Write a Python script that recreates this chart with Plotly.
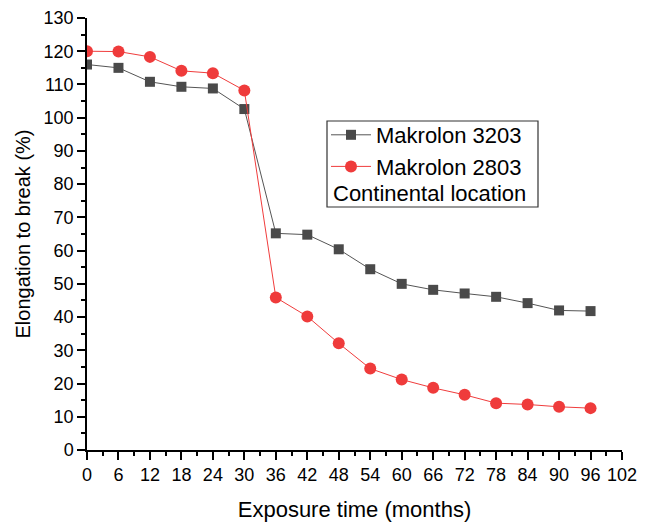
import plotly.graph_objects as go

months = [0, 6, 12, 18, 24, 30, 36, 42, 48, 54, 60, 66, 72, 78, 84, 90, 96]
mak3203 = [116.0, 115.0, 110.8, 109.3, 108.8, 102.6, 65.2, 64.8, 60.4, 54.4, 50.0, 48.2, 47.1, 46.1, 44.2, 42.0, 41.8]
mak2803 = [120.0, 119.9, 118.3, 114.1, 113.4, 108.2, 45.9, 40.2, 32.1, 24.5, 21.2, 18.7, 16.6, 14.1, 13.7, 13.0, 12.6]
x_ticks = list(range(0, 103, 6))
y_ticks = list(range(0, 131, 10))

FONT = "Liberation Sans, Arial, sans-serif"
L, R, T, B = 87, 28, 18, 72
PW, PH = 650 - L - R, 522 - T - B


def px(xp):
    return (xp - L) / PW


def py(yp):
    return (522 - B - yp) / PH


fig = go.Figure()
fig.add_trace(go.Scatter(x=months, y=mak3203, mode="lines+markers", name="Makrolon 3203",
                         line=dict(color="#555555", width=1),
                         marker=dict(symbol="square", size=10, color="#4a4a4a")))
fig.add_trace(go.Scatter(x=months, y=mak2803, mode="lines+markers", name="Makrolon 2803",
                         line=dict(color="#f03c3c", width=1),
                         marker=dict(symbol="circle", size=12, color="#ef3b3b")))

axis_common = dict(showline=True, linecolor="black", linewidth=1.5, ticks="outside",
                   ticklen=8, tickwidth=1.5, tickcolor="black", showgrid=False, zeroline=False,
                   automargin=False,
                   tickfont=dict(family=FONT, size=18, color="black"))
fig.update_xaxes(range=[0, 102], tickvals=x_ticks, **axis_common,
                 minor=dict(dtick=3, tick0=0, ticks="outside", ticklen=4, tickwidth=1.5, tickcolor="black"),
                 title=dict(text="Exposure time (months)", font=dict(family=FONT, size=22, color="black"), standoff=17))
fig.update_yaxes(range=[0, 130], tickvals=y_ticks, **axis_common,
                 minor=dict(dtick=5, tick0=0, ticks="outside", ticklen=4, tickwidth=1.5, tickcolor="black"),
                 title=dict(text="Elongation to break (%)", font=dict(family=FONT, size=20, color="black"), standoff=8))

fig.update_layout(
    width=650, height=522, paper_bgcolor="white", plot_bgcolor="white",
    margin=dict(l=L, r=R, t=T, b=B),
    showlegend=True,
    legend=dict(x=px(326), y=py(114), xanchor="left", yanchor="top",
                bgcolor="rgba(0,0,0,0)", borderwidth=0, tracegroupgap=0,
                font=dict(family=FONT, size=22, color="black"), itemwidth=40),
)
fig.add_shape(type="rect", xref="paper", yref="paper",
              x0=px(327), x1=px(538), y0=py(207), y1=py(121),
              line=dict(color="#333333", width=1.2), fillcolor="rgba(0,0,0,0)")
fig.add_annotation(text="Continental location", xref="paper", yref="paper",
                   x=px(331), y=py(193), xanchor="left", yanchor="middle",
                   showarrow=False, font=dict(family=FONT, size=22, color="black"))
fig.write_html("out.html")
